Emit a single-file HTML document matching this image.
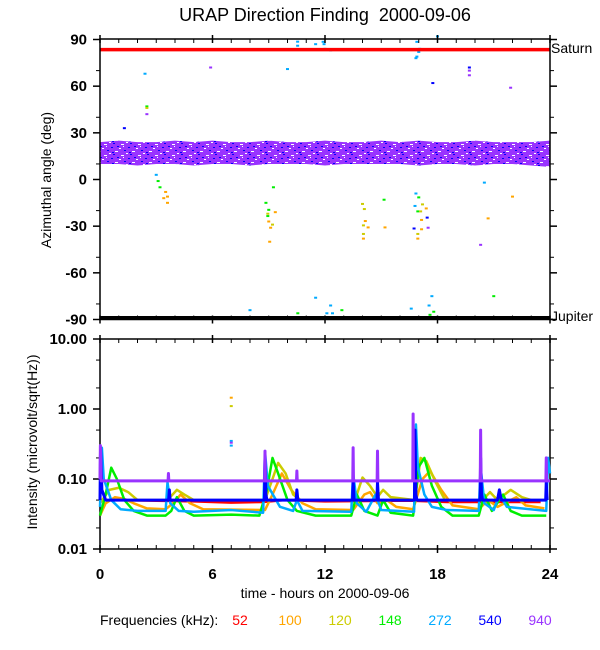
<!DOCTYPE html>
<html><head><meta charset="utf-8">
<style>
html,body{margin:0;padding:0;background:#fff;}
svg{display:block;font-family:"Liberation Sans",sans-serif;}
</style></head>
<body>
<svg id="chart" width="600" height="650" viewBox="0 0 600 650" xmlns="http://www.w3.org/2000/svg">
<defs>
<pattern id="speckle" width="17" height="11" patternUnits="userSpaceOnUse">
<rect x="2" y="1" width="3" height="1" fill="#fff"/>
<rect x="9" y="4" width="2" height="1" fill="#0000ff"/>
<rect x="13" y="8" width="3" height="1" fill="#fff"/>
<rect x="5" y="7" width="2" height="1" fill="#0000ff"/>
<rect x="0" y="5" width="2" height="1" fill="#fff"/>
<rect x="11" y="0" width="2" height="1" fill="#0000ff"/>
<rect x="7" y="10" width="2" height="1" fill="#fff"/>
<rect x="15" y="3" width="2" height="1" fill="#0000ff"/>
<rect x="4" y="3" width="1" height="1" fill="#fff"/>
<rect x="10" y="9" width="2" height="1" fill="#0000ff"/>
</pattern>
</defs>
<text x="325" y="21" text-anchor="middle" font-size="18">URAP Direction Finding&#160; 2000-09-06</text>
<g id="topPanel"></g>
<g id="botPanel"></g>
<text transform="translate(51,180) rotate(-90)" text-anchor="middle" font-size="14">Azimuthal angle (deg)</text>
<text transform="translate(37,442) rotate(-90)" text-anchor="middle" font-size="14">Intensity (microvolt/sqrt(Hz))</text>
<text x="325" y="598" text-anchor="middle" font-size="14">time - hours on 2000-09-06</text>
<text x="100" y="625" font-size="14">Frequencies (kHz):</text>
<text x="551" y="53" font-size="14">Saturn</text>
<text x="551" y="321" font-size="14">Jupiter</text>
</svg>
<script>
// ---- data ----
const freqLabels = ["52","100","120","148","272","540","940"];
const freqColors = ["#ff0000","#ffa500","#cccc00","#00ee00","#00aaff","#0000ff","#9933ff"];
const xTicks = [0,6,12,18,24];
const angleTicks = [90,60,30,0,-30,-60,-90];
const intensityTicks = [10,1,0.1,0.01];
const intensityTickLabels = ["10.00","1.00","0.10","0.01"];
const saturnAngle = 83.5;
const jupiterAngle = -89;
const bandHours = [0,1,2,3,4,5,6,7,8,9,10,11,12,13,14,15,16,17,18,19,20,21,22,23,24];
const bandLow = [10,10,9,10,10,9,10,10,9,10,10,10,9,10,10,10,10,9,10,10,9,10,10,9,8];
const bandHigh = [24,25,24,24,25,24,25,24,24,25,24,24,25,24,24,25,24,25,24,24,25,24,24,24,25];
const outHours = [2.4,2.5,2.5,2.5,3.0,3.1,3.2,3.5,3.4,3.6,3.6,10.54,10.54,11.5,11.9,11.95,12.0,12.3,16.9,17.05,17.0,16.9,16.85,10.0,19.7,19.7,19.7,17.75,21.9,8.0,10.55,10.55,11.5,12.3,12.1,12.4,12.9,16.6,17.7,17.8,17.6,17.55,9.25,8.85,9.0,8.95,8.95,9.1,9.0,9.35,9.05,9.2,14.0,14.1,14.15,14.05,14.3,14.05,14.05,15.2,15.15,16.85,17.0,16.95,17.1,17.2,17.4,17.15,17.15,16.95,16.95,16.8,16.75,17.45,17.5,20.5,20.7,20.3,21.0,22.0,5.9,1.3,18.0];
const outDeg = [68,47,46,42,3,-1,-5,-8,-12,-11,-15,88.6,86,87,88.5,87,84,83,88.5,84,82,79,78,71,72,70,67,62,59,-84,-86,-89,-76,-81,-86,-86,-84,-83,-75,-85,-87,-81,-5,-15,-19.5,-23.5,-22,-31,-27,-21,-40,-29,-15.7,-19,-26.7,-29.5,-30.8,-35,-38,-30.8,-13,-9,-11.5,-20.5,-20.5,-16,-18.6,-26,-32,-38,-35,-17,-31.5,-24.5,-31,-2,-25,-42,-75,-11,72,33,92];
const outColor = [4,3,2,6,4,3,3,1,1,1,1,4,4,4,4,4,4,4,4,4,4,4,4,4,5,6,6,5,6,4,3,4,4,4,4,4,3,4,4,3,3,4,3,3,3,3,2,1,1,1,1,2,2,2,1,2,1,2,1,1,3,4,3,3,2,2,1,1,1,1,2,4,5,5,6,4,1,6,3,1,6,5,4];

const series52 = [[0.8,0.05],[5,0.048],[7,0.046],[8.7,0.047],[9.8,0.05],[12,0.048],[16.5,0.049],[18.5,0.047],[20.2,0.047],[23.5,0.047]];
const series100 = [[0,0.03],[0.3,0.045],[0.8,0.055],[1.3,0.052],[1.8,0.045],[2.5,0.038],[3.5,0.037],[3.9,0.045],[4.3,0.06],[4.8,0.045],[5.5,0.037],[8.8,0.036],[9.2,0.06],[9.7,0.12],[10.2,0.07],[10.8,0.045],[11.5,0.037],[13.5,0.036],[14.1,0.06],[14.4,0.065],[14.8,0.045],[15.3,0.05],[15.8,0.04],[16.7,0.037],[17.2,0.1],[17.6,0.13],[18.2,0.07],[18.8,0.042],[20.2,0.037],[20.7,0.05],[21.2,0.04],[21.9,0.05],[22.2,0.055],[22.7,0.042],[23.7,0.038]];
const series120 = [[0,0.045],[0.5,0.07],[1,0.075],[1.5,0.065],[2,0.05],[3.6,0.05],[4.1,0.07],[4.5,0.06],[5,0.05],[8.8,0.05],[9.2,0.1],[9.5,0.17],[9.9,0.12],[10.3,0.06],[10.7,0.05],[13.6,0.05],[14,0.105],[14.4,0.08],[14.8,0.055],[15.1,0.07],[15.5,0.055],[16.8,0.05],[17.1,0.2],[17.4,0.18],[17.9,0.09],[18.4,0.05],[20.4,0.05],[20.8,0.065],[21.2,0.05],[21.9,0.07],[22.5,0.055],[23,0.05],[23.8,0.05]];
const series148 = [[0,0.03],[0.3,0.06],[0.6,0.145],[0.9,0.1],[1.3,0.05],[1.8,0.035],[2.5,0.03],[3.5,0.03],[3.8,0.035],[4.1,0.055],[4.5,0.035],[5,0.03],[7,0.031],[8.5,0.03],[8.9,0.07],[9.2,0.2],[9.5,0.12],[10,0.05],[10.5,0.035],[11.5,0.03],[13.4,0.03],[13.7,0.06],[14.1,0.035],[14.8,0.03],[15.1,0.05],[15.5,0.033],[16.7,0.03],[17,0.15],[17.3,0.2],[17.7,0.08],[18.2,0.04],[18.8,0.03],[20.2,0.03],[20.5,0.06],[20.9,0.035],[21.5,0.06],[21.9,0.035],[22.5,0.03],[23.8,0.03]];
const series272 = [[0,0.04],[0.1,0.28],[0.2,0.1],[0.6,0.05],[1.1,0.037],[2,0.035],[3.5,0.035],[3.6,0.09],[3.75,0.045],[4.2,0.035],[5,0.034],[7,0.036],[8.7,0.033],[8.8,0.25],[8.95,0.08],[9.6,0.04],[10.3,0.035],[10.5,0.05],[10.8,0.035],[13.4,0.034],[13.5,0.12],[13.7,0.045],[14.2,0.034],[14.7,0.06],[15,0.036],[16.75,0.034],[16.85,0.6],[16.95,0.15],[17.3,0.06],[17.7,0.04],[18.5,0.036],[20.2,0.035],[20.3,0.15],[20.5,0.045],[21,0.036],[21.3,0.06],[21.7,0.04],[23.8,0.035],[23.9,0.2],[24,0.12]];
const series540 = [[0,0.05],[0.03,0.28],[0.1,0.07],[0.3,0.05],[3.66,0.05],[3.7,0.07],[3.74,0.05],[8.77,0.05],[8.8,0.2],[8.85,0.06],[8.9,0.05],[10.46,0.05],[10.5,0.07],[10.55,0.05],[13.47,0.05],[13.5,0.1],[13.55,0.05],[14.77,0.05],[14.8,0.09],[14.85,0.05],[16.77,0.05],[16.8,0.5],[16.85,0.06],[16.9,0.05],[20.27,0.05],[20.3,0.2],[20.35,0.06],[20.4,0.05],[21.2,0.05],[21.3,0.07],[21.4,0.05],[23.77,0.05],[23.8,0.09],[23.85,0.05]];
const series940 = [[0,0.1],[0.02,0.3],[0.06,0.094],[3.63,0.094],[3.65,0.12],[3.67,0.094],[8.78,0.094],[8.8,0.25],[8.82,0.094],[10.48,0.094],[10.5,0.13],[10.52,0.094],[13.48,0.094],[13.5,0.28],[13.52,0.094],[14.78,0.094],[14.8,0.25],[14.82,0.094],[16.68,0.094],[16.7,0.85],[16.72,0.094],[20.28,0.094],[20.3,0.5],[20.32,0.094],[23.78,0.094],[23.8,0.2],[23.82,0.094],[24,0.094]];
const isoHours = [7.0,7.0,7.0,7.0,7.0];
const isoValues = [1.45,1.1,0.35,0.3,0.33];
const isoColor = [1,2,4,4,6];

// ---- axes ----
const NS = "http://www.w3.org/2000/svg";
const X0 = 100, X1 = 550;
const xs = h => X0 + (X1 - X0) * h / 24;
const ya = d => 179.5 - d * (140 / 90);
const yi = v => 479 - 70 * Math.log10(v / 0.1);
const TOP0 = 39, TOP1 = 319.5, BOT0 = 339, BOT1 = 549;

function mk(parent, tag, attrs) {
  const e = document.createElementNS(NS, tag);
  for (const k in attrs) e.setAttribute(k, attrs[k]);
  parent.appendChild(e);
  return e;
}
const topG = document.getElementById('topPanel');
const botG = document.getElementById('botPanel');

// band
let pts = [];
bandHours.forEach((h, i) => pts.push(xs(h) + ',' + ya(bandHigh[i])));
for (let i = bandHours.length - 1; i >= 0; i--) pts.push(xs(bandHours[i]) + ',' + ya(bandLow[i]));
let band = mk(topG, 'polygon', {points: pts.join(' '), fill: '#9933ff'});


let bandS = mk(topG, 'polygon', {points: pts.join(' '), fill: 'url(#speckle)'});



// outliers
outHours.forEach((h, i) => {
  const r = mk(topG, 'rect', {x: xs(h) - 1.5, y: ya(outDeg[i]) - 1, width: 3, height: 2, fill: freqColors[outColor[i]]});
  
  
});

// saturn / jupiter lines
let sl = mk(topG, 'line', {x1: X0, x2: X1, y1: ya(saturnAngle), y2: ya(saturnAngle), stroke: '#ff0000', 'stroke-width': 3.5});


let jl = mk(topG, 'line', {x1: X0, x2: X1, y1: ya(jupiterAngle), y2: ya(jupiterAngle), stroke: '#000', 'stroke-width': 4});



// frames
function frame(g, y0, y1, name) {
  const r = mk(g, 'rect', {x: X0, y: y0, width: X1 - X0, height: y1 - y0, fill: 'none', stroke: '#000', 'stroke-width': 1.5});
  
  
  for (let h = 0; h <= 24; h++) {
    const big = h % 6 === 0;
    mk(g, 'line', {x1: xs(h), x2: xs(h), y1: y0 - (big ? 4 : 0), y2: y0 + 4, stroke: '#000', 'stroke-width': big ? 1.5 : 1});
    mk(g, 'line', {x1: xs(h), x2: xs(h), y1: y1 - 4, y2: y1 + (big ? 4 : 0), stroke: '#000', 'stroke-width': big ? 1.5 : 1});
  }
}
frame(topG, TOP0, TOP1, 'angle-panel-frame');
frame(botG, BOT0, BOT1, 'intensity-panel-frame');

// angle ticks
angleTicks.forEach(d => {
  [[X0 - 7, X0], [X1, X1 + 7]].forEach(p => mk(topG, 'line', {x1: p[0], x2: p[1], y1: ya(d), y2: ya(d), stroke: '#000', 'stroke-width': 1.5}));
  const t = mk(topG, 'text', {x: 87, y: ya(d) + 5, 'text-anchor': 'end', 'font-size': 15, 'font-weight': 'bold'});
  t.textContent = d;
  
  
  if (d > -90) {
    const m = d - 20;
    mk(topG, 'line', {x1: X0 - 4, x2: X0, y1: ya(m), y2: ya(m), stroke: '#000'});
    mk(topG, 'line', {x1: X1, x2: X1 + 4, y1: ya(m), y2: ya(m), stroke: '#000'});
  }
});
// intensity ticks
intensityTicks.forEach((v, i) => {
  [[X0 - 7, X0], [X1, X1 + 7]].forEach(p => mk(botG, 'line', {x1: p[0], x2: p[1], y1: yi(v), y2: yi(v), stroke: '#000', 'stroke-width': 1.5}));
  const t = mk(botG, 'text', {x: 87, y: yi(v) + 5, 'text-anchor': 'end', 'font-size': 15, 'font-weight': 'bold'});
  t.textContent = intensityTickLabels[i];
  
  
  if (v > 0.01) [v / 2, v / 5].forEach(m => {
    mk(botG, 'line', {x1: X0 - 4, x2: X0, y1: yi(m), y2: yi(m), stroke: '#000'});
    mk(botG, 'line', {x1: X1, x2: X1 + 4, y1: yi(m), y2: yi(m), stroke: '#000'});
  });
});
xTicks.forEach(h => {
  const t = mk(botG, 'text', {x: xs(h), y: 579, 'text-anchor': 'middle', 'font-size': 15, 'font-weight': 'bold'});
  t.textContent = h;
  
  
});

// intensity series
const allSeries = [series52, series100, series120, series148, series272, series540, series940];
allSeries.forEach((s, i) => {
  const p = mk(botG, 'polyline', {points: s.map(d => xs(d[0]) + ',' + yi(d[1])).join(' '), fill: 'none', stroke: freqColors[i], 'stroke-width': i >= 5 ? 3 : 2.5, 'stroke-linejoin': 'round'});
  
  
});
isoHours.forEach((h, i) => {
  const r = mk(botG, 'rect', {x: xs(h) - 1.5, y: yi(isoValues[i]) - 1, width: 3, height: 2, fill: freqColors[isoColor[i]]});
  
  
});

// legend
const svgEl = document.getElementById('chart');
freqLabels.forEach((f, i) => {
  const t = mk(svgEl, 'text', {x: 240 + i * 50, y: 625, 'text-anchor': 'middle', 'font-size': 14, fill: freqColors[i]});
  t.textContent = f;
  
  
});
</script>
</body></html>
